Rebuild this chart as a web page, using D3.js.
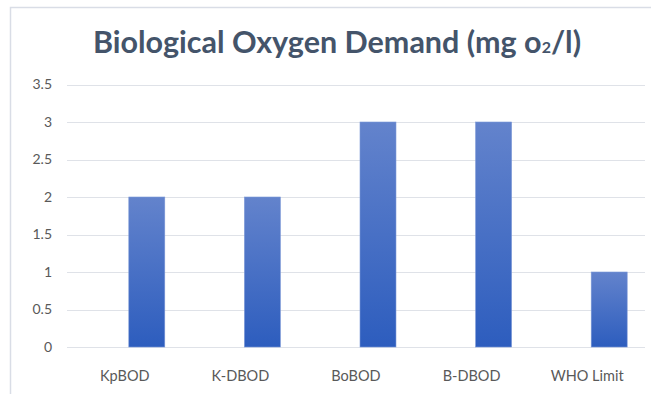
<!DOCTYPE html>
<html>
<head>
  <script src="https://d3js.org/d3.v7.min.js"></script>
  <style>
    body { margin: 0; background: #fff; }
    text { font-family: Lato, "Open Sans", sans-serif; }
  </style>
</head>
<body>
  <svg width="651" height="394"></svg>
  <script>
    const categories = ["KpBOD", "K-DBOD", "BoBOD", "B-DBOD", "WHO Limit"];
    const values = [2, 2, 3, 3, 1];
    const yTicks = [0, 0.5, 1, 1.5, 2, 2.5, 3, 3.5];

    const svg = d3.select("svg");

    // chart frame (cropped on right/bottom)
    svg.append("path")
      .attr("d", "M10.5,394 V7.5 H651")
      .attr("fill", "none")
      .attr("stroke", "#d9dde6")
      .attr("stroke-width", 1.5);

    const grad = svg.append("defs").append("linearGradient")
      .attr("id", "barGrad")
      .attr("x1", 0).attr("y1", 0).attr("x2", 0).attr("y2", 1);
    grad.append("stop").attr("offset", "0%").attr("stop-color", "#6383cc");
    grad.append("stop").attr("offset", "100%").attr("stop-color", "#2d5dbe");

    const y = d3.scaleLinear().domain([0, 3.5]).range([347, 84.5]);
    const x = d3.scaleBand().domain(categories).range([67, 645]);
    // bars sit in the second slot of each category (clustered layout)
    const xSlot = d3.scaleBand().domain([0, 1]).range([0, x.bandwidth()])
      .paddingInner(0.182).paddingOuter(0.405);

    // gridlines
    svg.append("g").selectAll("line")
      .data(yTicks)
      .enter().append("line")
      .attr("x1", 67).attr("x2", 645)
      .attr("y1", d => Math.round(y(d)) + 0.5)
      .attr("y2", d => Math.round(y(d)) + 0.5)
      .attr("stroke", "#dfe2e8")
      .attr("stroke-width", 1);

    // y labels
    svg.append("g").selectAll("text")
      .data(yTicks)
      .enter().append("text")
      .attr("x", 52)
      .attr("y", d => y(d))
      .attr("dy", "0.35em")
      .attr("text-anchor", "end")
      .attr("fill", "#595959")
      .style("font-size", "14px")
      .text(d => d);

    // bars
    svg.append("g").selectAll("rect")
      .data(values)
      .enter().append("rect")
      .attr("x", (d, i) => x(categories[i]) + xSlot(1))
      .attr("width", xSlot.bandwidth())
      .attr("y", d => y(d))
      .attr("height", d => y(0) - y(d))
      .attr("fill", "url(#barGrad)")
      .attr("stroke", "#7b97d6")
      .attr("stroke-width", 0.6);

    // category labels
    svg.append("g").selectAll("text")
      .data(categories)
      .enter().append("text")
      .attr("x", d => x(d) + x.bandwidth() / 2)
      .attr("y", 381)
      .attr("text-anchor", "middle")
      .attr("fill", "#595959")
      .style("font-size", "14.5px")
      .text(d => d);

    // title
    const title = svg.append("text")
      .attr("x", 337)
      .attr("y", 53)
      .attr("text-anchor", "middle")
      .attr("fill", "#44546a")
      .style("font-size", "30.5px")
      .style("font-weight", "bold");
    title.append("tspan").text("Biological Oxygen Demand (mg o");
    title.append("tspan").style("font-size", "16px").text("2");
    title.append("tspan").text("/l)");
  </script>
</body>
</html>
